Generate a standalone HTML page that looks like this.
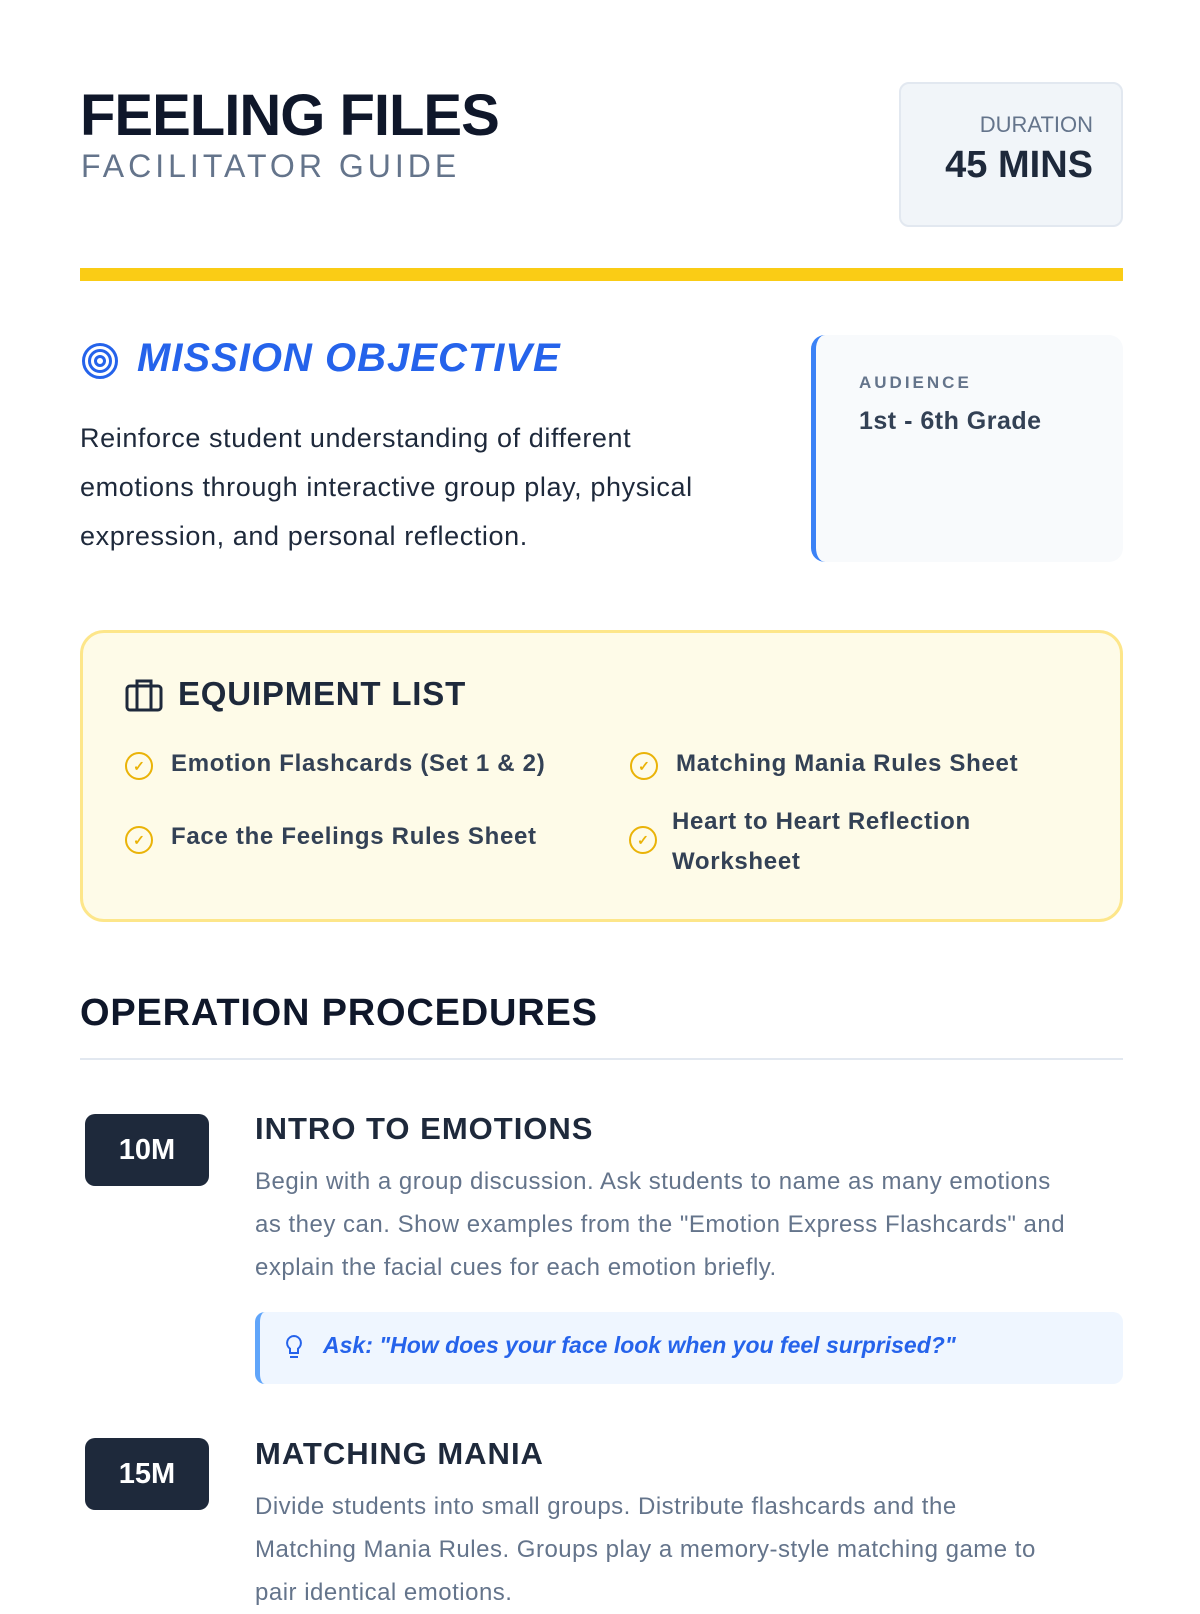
<!DOCTYPE html>
<html><head><meta charset="utf-8"><style>
*{margin:0;padding:0;box-sizing:border-box}
body{width:1200px;height:1600px;background:#fff;font-family:"Liberation Sans",sans-serif;position:relative;overflow:hidden;color:#1e293b}
.a{position:absolute;white-space:nowrap}
h1{font-size:58px;font-weight:900;letter-spacing:-1px;color:#0f172a}
.body{font-size:27px;line-height:49px;color:#1e293b;letter-spacing:.6px}
.eq{font-size:24px;font-weight:bold;color:#334155;letter-spacing:.7px}
.chk{width:28px;height:28px;border:2.5px solid #eab308;border-radius:50%;display:flex;align-items:center;justify-content:center;color:#eab308;font-size:14px;font-weight:bold}
.badge{background:#1e293b;color:#fff;font-weight:900;font-size:29px;width:124px;height:72px;border-radius:10px;display:flex;align-items:center;justify-content:center}
.st{font-size:31px;font-weight:900;color:#1e293b;letter-spacing:1px}
.p{font-size:24px;line-height:43px;color:#64748b;letter-spacing:.5px}
</style></head><body>
<h1 class="a" style="left:80px;top:82px">FEELING FILES</h1>
<div class="a" style="left:81px;top:148px;font-size:32px;letter-spacing:4px;color:#64748b">FACILITATOR GUIDE</div>
<div class="a" style="left:899px;top:82px;width:224px;height:145px;background:#f1f5f9;border:2px solid #e2e8f0;border-radius:10px;text-align:right;padding:28px 28px 0 0">
<div style="font-size:22px;color:#64748b">DURATION</div>
<div style="font-size:38px;font-weight:900;color:#1e293b;margin-top:6px">45 MINS</div></div>
<div class="a" style="left:80px;top:268px;width:1043px;height:13px;background:#facc15"></div>
<svg class="a" style="left:81px;top:342px" width="38" height="38" viewBox="0 0 38 38" fill="none" stroke="#2563eb" stroke-width="3"><circle cx="19" cy="19" r="16.5"/><circle cx="19" cy="19" r="10.5"/><circle cx="19" cy="19" r="4.5"/></svg>
<div class="a" style="left:137px;top:336px;font-size:40px;font-weight:900;font-style:italic;color:#2563eb;letter-spacing:1px">MISSION OBJECTIVE</div>
<div class="a body" style="left:80px;top:414px">Reinforce student understanding of different<br>emotions through interactive group play, physical<br>expression, and personal reflection.</div>
<div class="a" style="left:811px;top:335px;width:312px;height:227px;background:#f8fafc;border-left:5px solid #3b82f6;border-radius:14px;padding:38px 0 0 43px">
<div style="font-size:17px;font-weight:bold;letter-spacing:3px;color:#64748b">AUDIENCE</div>
<div style="font-size:25px;font-weight:bold;color:#334155;margin-top:14px;letter-spacing:.5px">1st - 6th Grade</div></div>
<div class="a" style="left:80px;top:630px;width:1043px;height:292px;background:#fefbe8;border:3px solid #fde68a;border-radius:24px"></div>
<svg class="a" style="left:125px;top:678px" width="38" height="34" viewBox="0 0 38 34" fill="none" stroke="#1e293b" stroke-width="3"><rect x="2" y="8" width="34" height="24" rx="3"/><path d="M12 8V3h14v5M12 8v24M26 8v24"/></svg>
<div class="a" style="left:178px;top:675px;font-size:33px;font-weight:900;color:#1e293b;letter-spacing:.8px">EQUIPMENT LIST</div>
<div class="a chk" style="left:125px;top:752px">✓</div>
<div class="a eq" style="left:171px;top:750px">Emotion Flashcards (Set 1 &amp; 2)</div>
<div class="a chk" style="left:125px;top:826px">✓</div>
<div class="a eq" style="left:171px;top:823px">Face the Feelings Rules Sheet</div>
<div class="a chk" style="left:630px;top:752px">✓</div>
<div class="a eq" style="left:676px;top:750px">Matching Mania Rules Sheet</div>
<div class="a chk" style="left:629px;top:826px">✓</div>
<div class="a eq" style="left:672px;top:802px;line-height:40px">Heart to Heart Reflection<br>Worksheet</div>
<div class="a" style="left:80px;top:992px;font-size:38px;font-weight:900;color:#0f172a;letter-spacing:.8px">OPERATION PROCEDURES</div>
<div class="a" style="left:80px;top:1058px;width:1043px;height:2px;background:#e2e8f0"></div>
<div class="a badge" style="left:85px;top:1114px">10M</div>
<div class="a st" style="left:255px;top:1111px">INTRO TO EMOTIONS</div>
<div class="a p" style="left:255px;top:1160px">Begin with a group discussion. Ask students to name as many emotions<br>as they can. Show examples from the "Emotion Express Flashcards" and<br>explain the facial cues for each emotion briefly.</div>
<div class="a" style="left:255px;top:1312px;width:868px;height:72px;background:#eff6ff;border-left:5px solid #60a5fa;border-radius:10px"></div>
<svg class="a" style="left:284px;top:1334px" width="20" height="28" viewBox="0 0 20 28" fill="none" stroke="#2563eb" stroke-width="2"><path d="M10 2a7 7 0 0 0-4 12.7V19h8v-4.3A7 7 0 0 0 10 2zM6 23h8"/></svg>
<div class="a" style="left:323px;top:1332px;font-size:23px;font-style:italic;font-weight:bold;color:#2563eb">Ask: "How does your face look when you feel surprised?"</div>
<div class="a badge" style="left:85px;top:1438px">15M</div>
<div class="a st" style="left:255px;top:1436px">MATCHING MANIA</div>
<div class="a p" style="left:255px;top:1485px">Divide students into small groups. Distribute flashcards and the<br>Matching Mania Rules. Groups play a memory-style matching game to<br>pair identical emotions.</div>
</body></html>
